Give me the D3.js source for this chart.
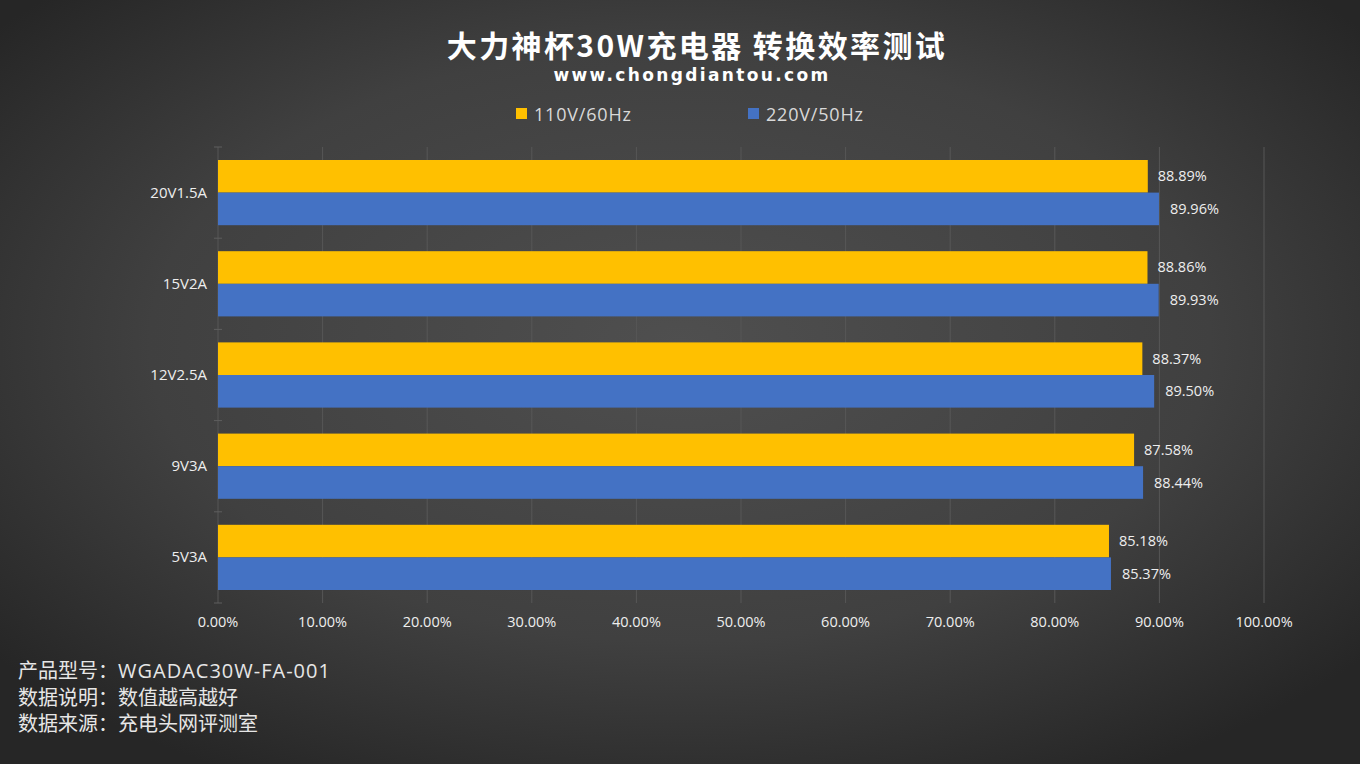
<!DOCTYPE html>
<html><head><meta charset="utf-8">
<script src="https://cdn.jsdelivr.net/npm/d3@7"></script>
<style>
html,body{margin:0;padding:0;background:#333;}
svg{display:block;}
</style></head>
<body>
<svg id="c" width="1360" height="764"></svg>
<script>
const categories = ["20V1.5A","15V2A","12V2.5A","9V3A","5V3A"];
const series110 = [88.89, 88.86, 88.37, 87.58, 85.18];
const series220 = [89.96, 89.93, 89.50, 88.44, 85.37];
const seriesNames = ["110V/60Hz","220V/50Hz"];
const colors = ["#FFC000","#4472C4"];
const xTicks = [0,10,20,30,40,50,60,70,80,90,100];
const footer = ["产品型号：WGADAC30W-FA-001","数据说明：数值越高越好","数据来源：充电头网评测室"];

(function(){
const svg = d3.select("#c");
const W=1360,H=764;
const defs = svg.append("defs");
const rg = defs.append("radialGradient").attr("id","bg").attr("cx","50%").attr("cy","45%").attr("r","65%");
rg.append("stop").attr("offset","0%").attr("stop-color","#4f4f4f");
rg.append("stop").attr("offset","60%").attr("stop-color","#404040");
rg.append("stop").attr("offset","100%").attr("stop-color","#262626");
svg.append("rect").attr("width",W).attr("height",H).attr("fill","url(#bg)");

const font = "'Noto Sans CJK SC','Noto Sans',sans-serif";
const lat = "'Open Sans','Noto Sans CJK SC',sans-serif";
svg.append("text").attr("x",697).attr("y",57).attr("text-anchor","middle")
  .attr("fill","#fff").attr("font-family",font).attr("font-weight","bold").attr("font-size",30)
  .attr("letter-spacing",2.4).text("大力神杯30W充电器 转换效率测试");
svg.append("text").attr("x",692).attr("y",81).attr("text-anchor","middle")
  .attr("fill","#fff").attr("font-family","'DejaVu Sans',sans-serif").attr("font-weight","bold").attr("font-size",17)
  .attr("letter-spacing",2.35).text("www.chongdiantou.com");

const lg = svg.append("g");
const legX=[516,748];
seriesNames.forEach((n,i)=>{
  lg.append("rect").attr("x",legX[i]).attr("y",108).attr("width",11).attr("height",11).attr("fill",colors[i]);
  lg.append("text").attr("x",legX[i]+18).attr("y",121).attr("fill","#d9d9d9").attr("font-family",lat).attr("font-size",18)
    .attr("letter-spacing",0.8).text(n);
});

const pL=218,pR=1264,pT=147,pB=603;
const x = d3.scaleLinear().domain([0,100]).range([pL,pR]);
const y = d3.scaleBand().domain(categories).range([pT,pB]).paddingInner(0.285).paddingOuter(0.1425);
const y2 = d3.scaleBand().domain([0,1]).range([0,y.bandwidth()]);

svg.append("g").selectAll("line").data(xTicks).join("line")
  .attr("x1",d=>x(d)).attr("x2",d=>x(d)).attr("y1",pT).attr("y2",pB)
  .attr("stroke","#575757").attr("stroke-width",1);

const step = (pB-pT)/categories.length;
svg.append("g").selectAll("line").data(d3.range(categories.length+1)).join("line")
  .attr("x1",pL-4).attr("x2",pL+4).attr("y1",d=>pT+d*step).attr("y2",d=>pT+d*step)
  .attr("stroke","#5e5e5e");

const data = categories.map((c,i)=>({c,v:[series110[i],series220[i]]}));
const g = svg.append("g");
data.forEach(d=>{
  d.v.forEach((v,k)=>{
    g.append("rect").attr("x",x(0)).attr("y",y(d.c)+y2(k)).attr("width",x(v)-x(0)).attr("height",y2.bandwidth())
      .attr("fill",colors[k]);
    g.append("text").attr("x",x(v)+(k===0?10:11)).attr("y",y(d.c)+y2(k)+y2.bandwidth()/2+5)
      .attr("fill","#eeeeee").attr("font-family",lat).attr("font-size",14.5).text(v.toFixed(2)+"%");
  });
  svg.append("text").attr("x",207).attr("y",y(d.c)+y.bandwidth()/2+5).attr("text-anchor","end")
    .attr("fill","#eeeeee").attr("font-family",lat).attr("font-size",15).text(d.c);
});

svg.append("g").selectAll("text").data(xTicks).join("text")
  .attr("x",d=>x(d)).attr("y",627).attr("text-anchor","middle")
  .attr("fill","#eeeeee").attr("font-family",lat).attr("font-size",14.5).text(d=>d.toFixed(2)+"%");

const ft = svg.append("g").selectAll("text").data(footer).join("text")
  .attr("x",18).attr("y",(d,i)=>678+i*26.5)
  .attr("fill","#e6e6e6").attr("font-family",lat).attr("font-size",20);
ft.each(function(d){
  const parts = d.split("：");
  const t = d3.select(this);
  t.append("tspan").text(parts[0]+"：");
  t.append("tspan").attr("letter-spacing",/[A-Z]/.test(parts[1])?1:0).text(parts[1]);
});
})();
</script>
</body></html>
